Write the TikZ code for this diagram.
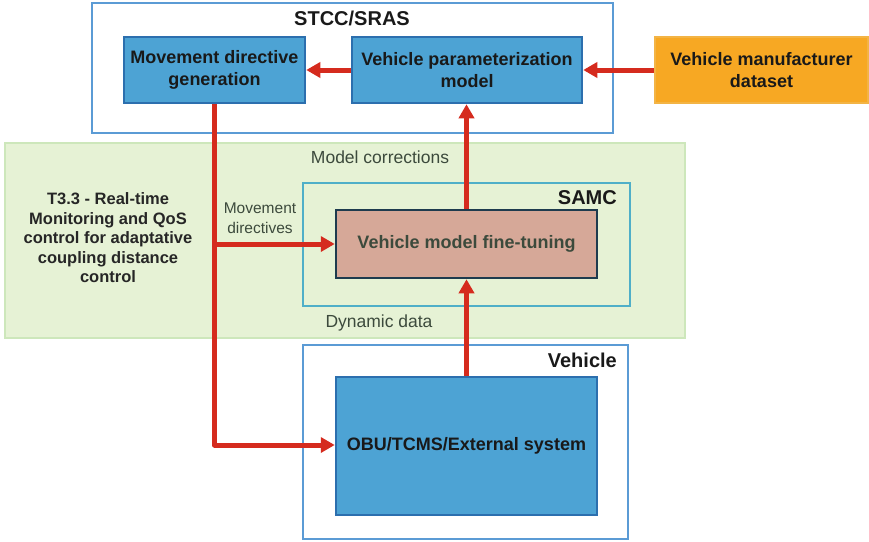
\documentclass[tikz,border=0pt]{standalone}
\usepackage{fontspec}
\setmainfont{Liberation Sans}
\usetikzlibrary{arrows.meta}
\definecolor{boxBlue}{HTML}{4DA3D4}
\definecolor{lineBlue}{HTML}{2C6FAE}
\definecolor{frameBlue}{HTML}{5B9BD5}
\definecolor{boxOrange}{HTML}{F7A823}
\definecolor{lineOrange}{HTML}{F3B445}
\definecolor{boxRose}{HTML}{D6A898}
\definecolor{lineDark}{HTML}{1E3B4E}
\definecolor{areaGreen}{HTML}{E6F2D5}
\definecolor{lineGreen}{HTML}{CDE7BB}
\definecolor{frameTeal}{HTML}{4FAFC8}
\definecolor{arrowRed}{HTML}{D52B1E}
\definecolor{textGreen}{HTML}{3C4A3C}
\tikzstyle{blueBox}=[shape = rectangle, draw = lineBlue, line width = 2.5pt, fill = boxBlue, inner sep = 0pt, align = center, text = black!90, font = \bfseries\fontsize{18}{21.5}\selectfont]
\tikzstyle{orangeBox}=[blueBox, draw = lineOrange, fill = boxOrange]
\tikzstyle{roseBox}=[blueBox, draw = lineDark, fill = boxRose, text = textGreen]
\tikzstyle{frameBox}=[shape = rectangle, draw = frameBlue, line width = 2pt, inner sep = 0pt]
\tikzstyle{titleText}=[inner sep = 0pt, text = black!90, font = \bfseries\fontsize{20}{24}\selectfont]
\tikzstyle{noteText}=[inner sep = 0pt, align = center, text = textGreen, font = \fontsize{17.5}{21}\selectfont]
\tikzstyle{redArrow}=[draw = arrowRed, line width = 5pt, line join = round, -{Triangle[length = 14pt, width = 15pt]}]

\begin{document}
\begin{tikzpicture}[x = 1pt, y = -1pt]
\useasboundingbox (0,0) rectangle (869,541);
% frames
\node[frameBox, minimum width = 521pt, minimum height = 130pt] (stcc) at (352.5,68) {};
\node[frameBox, draw = lineGreen, fill = areaGreen, minimum width = 680pt, minimum height = 195pt] (qos) at (345,240.5) {};
\node[frameBox, draw = frameTeal, minimum width = 327pt, minimum height = 123pt] (samc) at (466.5,244.5) {};
\node[frameBox, minimum width = 325pt, minimum height = 194pt] (veh) at (465.5,442) {};
% boxes
\node[blueBox, minimum width = 181pt, minimum height = 66pt] (mdg) at (214.5,70) {Movement directive\\generation};
\node[blueBox, minimum width = 230pt, minimum height = 66pt] (vpm) at (467,70) {Vehicle parameterization\\model};
\node[orangeBox, minimum width = 213pt, minimum height = 66pt] (vmd) at (761.5,70) {Vehicle manufacturer\\dataset};
\node[roseBox, minimum width = 261pt, minimum height = 68pt] (vmft) at (466.5,244) {Vehicle model fine-tuning};
\node[blueBox, minimum width = 261pt, minimum height = 138pt] (obu) at (466.5,446) {OBU/TCMS/External system};
% labels
\node[titleText] (tStcc) at (352,18) {STCC/SRAS};
\node[titleText, anchor = east] (tSamc) at (617,198) {SAMC};
\node[titleText, anchor = east] (tVeh) at (617,360) {Vehicle};
\node[noteText] (tCorr) at (380,157) {Model corrections};
\node[noteText] (tDyn) at (379,323) {Dynamic data};
\node[noteText, font = \fontsize{15.5}{19.5}\selectfont] (tMove) at (260,218) {Movement\\directives};
\node[noteText, text = black!85, font = \bfseries\fontsize{16.5}{19.5}\selectfont] (tQos) at (108,238) {T3.3 - Real-time\\Monitoring and QoS\\control for adaptative\\coupling distance\\control};
% arrows
\draw[redArrow] (vmd.west) -- (vpm.east);
\draw[redArrow] (vpm.west) -- (mdg.east);
\draw[redArrow] (mdg.south) |- ([yshift = 1pt]obu.west);
\draw[redArrow] (mdg.south |- vmft.west) -- (vmft.west);
\draw[redArrow] (vmft.north) -- (vmft.north |- vpm.south);
\draw[redArrow] (obu.north) -- (vmft.south);
\end{tikzpicture}
\end{document}
